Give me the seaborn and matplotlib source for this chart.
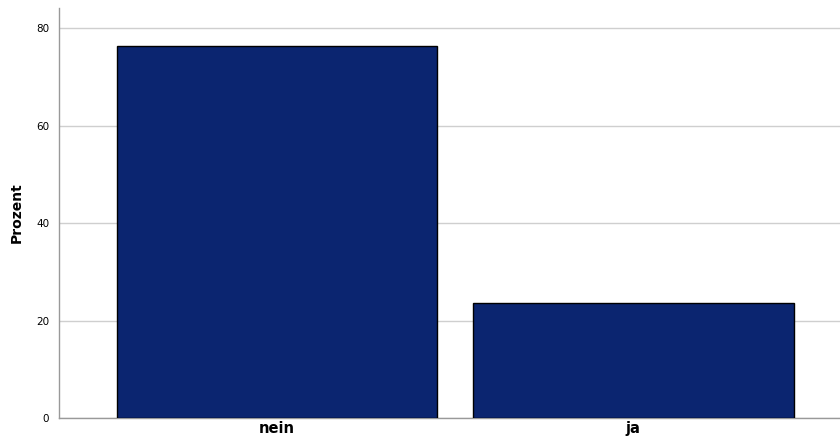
import matplotlib
matplotlib.use("Agg")
import matplotlib.pyplot as plt
import seaborn as sns
import pandas as pd

categories = ["nein", "ja"]
percent = [76.3, 23.7]
y_ticks = [0, 20, 40, 60, 80]

df = pd.DataFrame({"cat": categories, "pct": percent})

sns.set_style("white")
plt.rcParams['font.family'] = ['DejaVu Sans']

fig = plt.figure(figsize=(8.4, 4.43), dpi=100)
ax = fig.add_axes([59/840, 25/443, 1 - 59/840, (418-8)/443])

sns.barplot(data=df, x="cat", y="pct", order=categories, color="#0b2570",
            width=0.9, edgecolor="black", linewidth=1, saturation=1, ax=ax, zorder=3)

ax.set_xlim(-0.612, 1.58)
ax.set_ylim(0, 84.2)
ax.set_yticks(y_ticks)
ax.set_yticklabels([str(t) for t in y_ticks], fontsize=7.5, color="black")
ax.yaxis.grid(True, color="#cfcfcf", linewidth=1, zorder=0)
ax.set_axisbelow(True)
ax.tick_params(axis="y", length=0, pad=7, labelcolor="black")
ax.tick_params(axis="x", length=0, pad=2, labelcolor="black")
for lbl in ax.get_xticklabels():
    lbl.set_fontsize(10.5)
    lbl.set_fontweight("semibold")
ax.set_xlabel("")
ax.set_ylabel("Prozent", fontsize=10, fontweight="bold", labelpad=9, color="black")

for s in ["top", "right"]:
    ax.spines[s].set_visible(False)
for s in ["left", "bottom"]:
    ax.spines[s].set_color("#999999")
    ax.spines[s].set_linewidth(1)

fig.savefig("out.png", dpi=100)
